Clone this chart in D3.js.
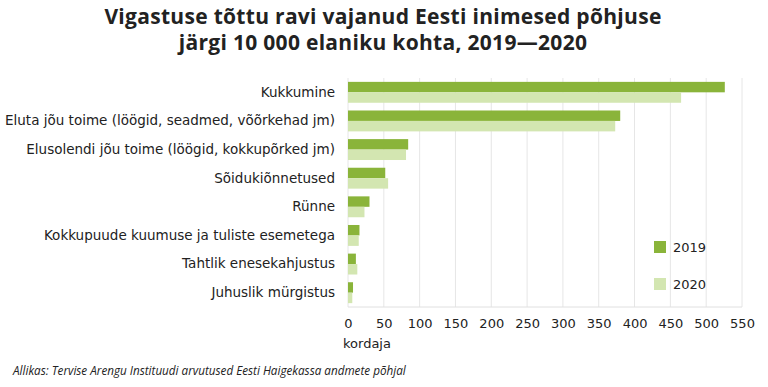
<!DOCTYPE html>
<html>
<head>
<meta charset="utf-8">
<script src="https://cdn.jsdelivr.net/npm/d3@7"></script>
<style>
  body { margin: 0; background: #fff; }
  text { font-family: "Open Sans", sans-serif; fill: #222; }
</style>
</head>
<body>
<div id="chart"></div>
<script>
const categories = [
  "Kukkumine",
  "Eluta jõu toime (löögid, seadmed, võõrkehad jm)",
  "Elusolendi jõu toime (löögid, kokkupõrked jm)",
  "Sõidukiõnnetused",
  "Rünne",
  "Kokkupuude kuumuse ja tuliste esemetega",
  "Tahtlik enesekahjustus",
  "Juhuslik mürgistus"
];
const years = ["2019", "2020"];
const values2019 = [526, 380, 84, 52, 30, 16, 11, 7];
const values2020 = [465, 373, 81, 56, 23, 15, 13, 6];
const xTicks = [0, 50, 100, 150, 200, 250, 300, 350, 400, 450, 500, 550];

const data = categories.map((c, i) => ({ cat: c, "2019": values2019[i], "2020": values2020[i] }));

const width = 768, height = 387;
const margins = { top: 78, right: 26, bottom: 80, left: 348 };
const labelFont = "'DejaVu Sans', sans-serif";

const svg = d3.select("#chart")
  .append("svg")
  .attr("width", width)
  .attr("height", height);

const color = d3.scaleOrdinal()
  .domain(years)
  .range(["#8ab43a", "#d3e6b1"]);

const xScale = d3.scaleLinear()
  .domain([0, 550])
  .range([margins.left, width - margins.right]);

const yScale = d3.scaleBand()
  .domain(categories)
  .range([margins.top, height - margins.bottom])
  .paddingInner(0.27)
  .paddingOuter(0.135);

const ySub = d3.scaleBand()
  .domain(years)
  .range([0, yScale.bandwidth()]);

// gridlines
svg.append("g")
  .selectAll("line")
  .data(xTicks)
  .join("line")
    .attr("x1", d => xScale(d))
    .attr("x2", d => xScale(d))
    .attr("y1", margins.top)
    .attr("y2", height - margins.bottom)
    .style("stroke", "#e6e6e6")
    .style("stroke-width", 1);

// bottom line
svg.append("line")
  .attr("x1", margins.left)
  .attr("x2", width - margins.right)
  .attr("y1", height - margins.bottom)
  .attr("y2", height - margins.bottom)
  .style("stroke", "#e0e0e0");

// bars
const groups = svg.append("g")
  .selectAll("g")
  .data(data)
  .join("g")
    .attr("transform", d => `translate(0,${yScale(d.cat)})`);

groups.selectAll("rect")
  .data(d => years.map(y => ({ year: y, value: d[y] })))
  .join("rect")
    .attr("x", xScale(0))
    .attr("y", d => ySub(d.year))
    .attr("width", d => xScale(d.value) - xScale(0))
    .attr("height", ySub.bandwidth())
    .style("fill", d => color(d.year));

// x axis
const xAxis = d3.axisBottom(xScale).tickValues(xTicks).tickSize(0).tickPadding(12);
svg.append("g")
  .attr("transform", `translate(0,${height - margins.bottom})`)
  .call(xAxis)
  .call(g => g.select(".domain").remove())
  .call(g => g.selectAll("text")
    .style("font-size", "13px")
    .style("font-family", labelFont)
    .style("fill", "#222"));

// y axis labels
const yAxis = d3.axisLeft(yScale).tickSize(0).tickPadding(13);
svg.append("g")
  .attr("transform", `translate(${margins.left},0)`)
  .call(yAxis)
  .call(g => g.select(".domain").remove())
  .call(g => g.selectAll("text")
    .style("font-size", "13.5px")
    .style("font-family", labelFont)
    .style("fill", "#222"));

// x label
svg.append("text")
  .attr("x", 343)
  .attr("y", 348)
  .style("font-size", "13px")
  .style("font-family", labelFont)
  .text("kordaja");

// title
const title = ["Vigastuse tõttu ravi vajanud Eesti inimesed põhjuse",
               "järgi 10 000 elaniku kohta, 2019\u20142020"];
svg.append("text")
  .attr("text-anchor", "middle")
  .attr("x", 383)
  .attr("y", 24)
  .style("font-size", "21px")
  .style("font-weight", "bold")
  .style("letter-spacing", "0.3px")
  .selectAll("tspan")
  .data(title)
  .join("tspan")
    .attr("x", 383)
    .attr("dy", (d, i) => i === 0 ? 0 : 26)
    .text(d => d);

// legend
const legend = svg.append("g")
  .selectAll("g")
  .data(years)
  .join("g")
    .attr("transform", (d, i) => `translate(654,${241 + i * 37})`);
legend.append("rect")
  .attr("width", 12)
  .attr("height", 12)
  .style("fill", d => color(d));
legend.append("text")
  .attr("x", 19)
  .attr("y", 6)
  .attr("dy", "0.35em")
  .style("font-size", "13px")
  .style("font-family", labelFont)
  .text(d => d);

// source
svg.append("text")
  .attr("x", 13)
  .attr("y", 375)
  .style("font-size", "11.7px")
  .style("font-style", "italic")
  .text("Allikas: Tervise Arengu Instituudi arvutused Eesti Haigekassa andmete põhjal");
</script>
</body>
</html>
